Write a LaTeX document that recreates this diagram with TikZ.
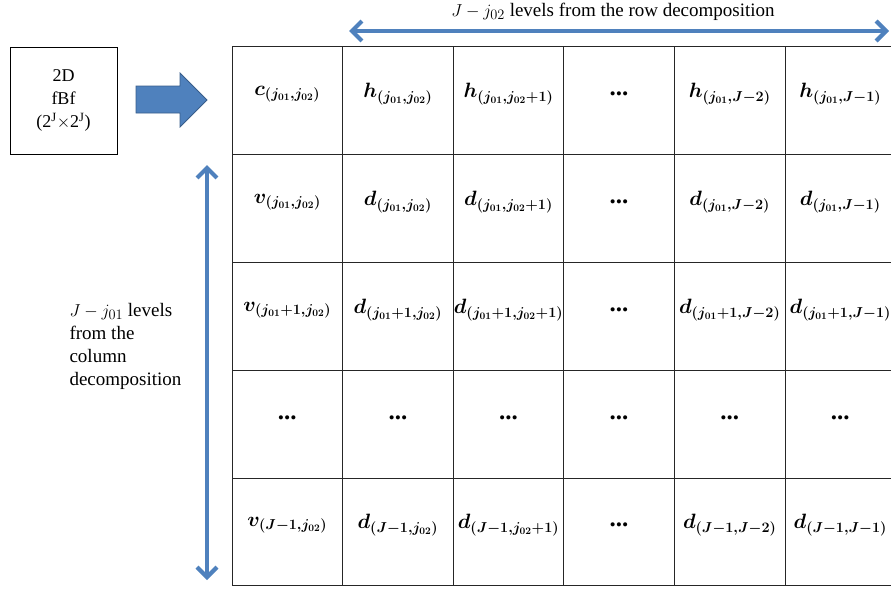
\documentclass[tikz,border=0pt]{standalone}
\usepackage{fontspec}
\setmainfont{Liberation Serif}
\usepackage{amsmath}
\usetikzlibrary{arrows.meta,positioning}
\definecolor{officeblue}{RGB}{79,129,189}
\definecolor{officeedge}{RGB}{56,93,138}
\newcommand{\celldots}{\text{\fontsize{25}{25}\selectfont\bfseries ...}}

\begin{document}
\begin{tikzpicture}[x=1pt, y=-1pt, every node/.style={font=\fontsize{19}{23}\selectfont},
    cell/.style={font=\fontsize{20}{22}\selectfont\boldmath, yshift=6pt},
    gridline/.style={draw=black!85, line width=0.8pt},
    dblarrow/.style={draw=officeblue, line width=4.2pt,
      {Straight Barb[length=10pt,width=20pt]}-{Straight Barb[length=10pt,width=20pt]}}]
    \useasboundingbox (0,0) rectangle (891,590);
    % Input image
    \node[draw, line width=0.8pt, minimum width=107pt, minimum height=107pt,
      align=center, font=\fontsize{18}{23}\selectfont] (fbf) at (63.5,100.5)
      {2D\\fBf\\(2\textsuperscript{J}$\times$2\textsuperscript{J})};
    % Block arrow
    \filldraw[fill=officeblue, draw=officeedge, line width=0.8pt]
      (136,86) -- (180,86) -- (180,73) -- (207,100) -- (180,127) -- (180,113) -- (136,113) -- cycle;
    % Grid
    \foreach \y in {46,154,262,370,478,585}
      \draw[gridline] (232,\y) -- (891,\y);
    \foreach \x in {232,342.6,453.2,563.8,674.4,785}
      \draw[gridline] (\x,46) -- (\x,585);
    % Coefficients, row by row
    \foreach \c/\t in {1/{c_{(j_{01},j_{02})}}, 2/{h_{(j_{01},j_{02})}}, 3/{h_{(j_{01},j_{02}+1)}},
        4/{\celldots}, 5/{h_{(j_{01},J-2)}}, 6/{h_{(j_{01},J-1)}}}
      \node[cell] (cell-1-\c) at ({232+110.6*(\c-0.5)},100) {$\t$};
    \foreach \c/\t in {1/{v_{(j_{01},j_{02})}}, 2/{d_{(j_{01},j_{02})}}, 3/{d_{(j_{01},j_{02}+1)}},
        4/{\celldots}, 5/{d_{(j_{01},J-2)}}, 6/{d_{(j_{01},J-1)}}}
      \node[cell] (cell-2-\c) at ({232+110.6*(\c-0.5)},208) {$\t$};
    \foreach \c/\t in {1/{v_{(j_{01}+1,j_{02})}}, 2/{d_{(j_{01}+1,j_{02})}}, 3/{d_{(j_{01}+1,j_{02}+1)}},
        4/{\celldots}, 5/{d_{(j_{01}+1,J-2)}}, 6/{d_{(j_{01}+1,J-1)}}}
      \node[cell] (cell-3-\c) at ({232+110.6*(\c-0.5)},316) {$\t$};
    \foreach \c in {1,...,6}
      \node[cell] (cell-4-\c) at ({232+110.6*(\c-0.5)},424) {$\celldots$};
    \foreach \c/\t in {1/{v_{(J-1,j_{02})}}, 2/{d_{(J-1,j_{02})}}, 3/{d_{(J-1,j_{02}+1)}},
        4/{\celldots}, 5/{d_{(J-1,J-2)}}, 6/{d_{(J-1,J-1)}}}
      \node[cell] (cell-5-\c) at ({232+110.6*(\c-0.5)},531) {$\t$};
    % Row decomposition
    \coordinate (rowL) at (349,31);
    \coordinate (rowR) at (889,31);
    \draw[dblarrow] (rowL) -- (rowR);
    \node[inner sep=1pt] (rowlabel) at (613,12) {$J-j_{02}$ levels from the row decomposition};
    % Column decomposition
    \coordinate (colT) at (207,165);
    \coordinate (colB) at (207,580);
    \draw[dblarrow] (colT) -- (colB);
    \node[align=left, anchor=west] (collabel) at (66,346)
      {$J-j_{01}$ levels\\from the\\column\\decomposition};
\end{tikzpicture}
\end{document}
